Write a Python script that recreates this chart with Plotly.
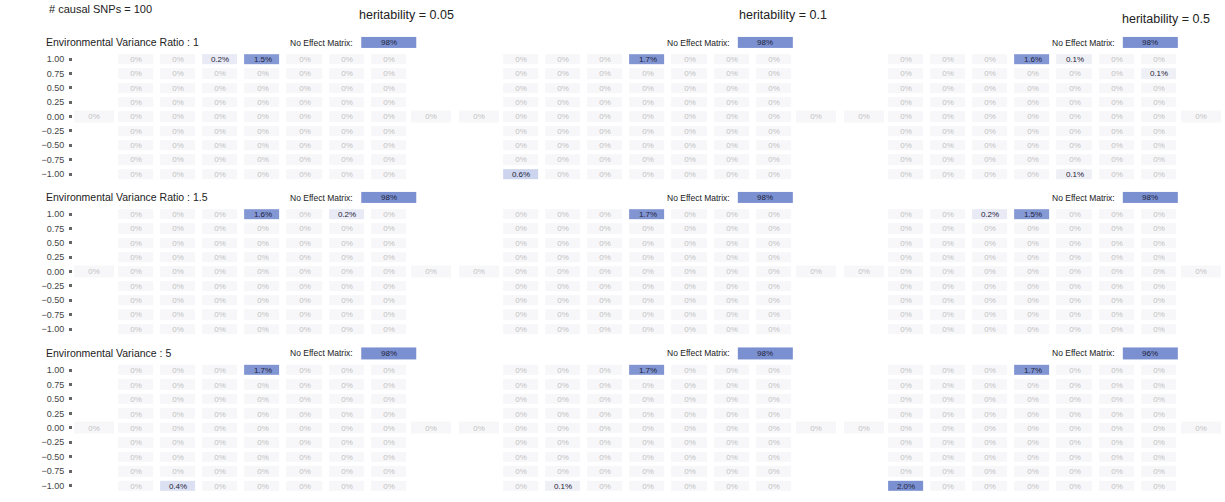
import plotly.graph_objects as go

W, H = 1225, 502
FONT = "Liberation Sans, Arial, sans-serif"

# ---- data -------------------------------------------------------------
heritability = ["0.05", "0.1", "0.5"]
env_labels = [
    "Environmental Variance Ratio : 1",
    "Environmental Variance Ratio : 1.5",
    "Environmental Variance : 5",
]
effect_levels = [1.00, 0.75, 0.50, 0.25, 0.00, -0.25, -0.50, -0.75, -1.00]

Z7 = [0, 0, 0, 0, 0, 0, 0]

# percentage of runs per cell, rows 1.00 -> -1.00, 7 columns
grid_ev1_h005 = [[0, 0, 0.2, 1.5, 0, 0, 0], Z7, Z7, Z7, Z7, Z7, Z7, Z7, Z7]
grid_ev1_h01 = [[0, 0, 0, 1.7, 0, 0, 0], Z7, Z7, Z7, Z7, Z7, Z7, Z7,
                [0.6, 0, 0, 0, 0, 0, 0]]
grid_ev1_h05 = [[0, 0, 0, 1.6, 0.1, 0, 0], [0, 0, 0, 0, 0, 0, 0.1],
                Z7, Z7, Z7, Z7, Z7, Z7, [0, 0, 0, 0, 0.1, 0, 0]]

grid_ev15_h005 = [[0, 0, 0, 1.6, 0, 0.2, 0], Z7, Z7, Z7, Z7, Z7, Z7, Z7, Z7]
grid_ev15_h01 = [[0, 0, 0, 1.7, 0, 0, 0], Z7, Z7, Z7, Z7, Z7, Z7, Z7, Z7]
grid_ev15_h05 = [[0, 0, 0.2, 1.5, 0, 0, 0], Z7, Z7, Z7, Z7, Z7, Z7, Z7, Z7]

grid_ev5_h005 = [[0, 0, 0, 1.7, 0, 0, 0], Z7, Z7, Z7, Z7, Z7, Z7, Z7,
                 [0, 0.4, 0, 0, 0, 0, 0]]
grid_ev5_h01 = [[0, 0, 0, 1.7, 0, 0, 0], Z7, Z7, Z7, Z7, Z7, Z7, Z7,
                [0, 0.1, 0, 0, 0, 0, 0]]
grid_ev5_h05 = [[0, 0, 0, 1.7, 0, 0, 0], Z7, Z7, Z7, Z7, Z7, Z7, Z7,
                [2.0, 0, 0, 0, 0, 0, 0]]

grids = [
    [grid_ev1_h005, grid_ev1_h01, grid_ev1_h05],
    [grid_ev15_h005, grid_ev15_h01, grid_ev15_h05],
    [grid_ev5_h005, grid_ev5_h01, grid_ev5_h05],
]

# outer cells of the 0.00 row (left, right)
side_cells = [
    [[0, 0], [0, 0], [0, 0]],
    [[0, 0], [0, 0], [0, 0]],
    [[0, 0], [0, 0], [0, 0]],
]

no_effect = [
    [98, 98, 98],
    [98, 98, 98],
    [98, 98, 96],
]

# ---- styling ----------------------------------------------------------
colorscale = [
    [0.00, "#f7f7f9"],
    [0.05, "#eff0f6"],
    [0.10, "#e8eaf5"],
    [0.20, "#dbe0f2"],
    [0.30, "#ccd4ee"],
    [0.75, "#8599d5"],
    [1.00, "#7a90d1"],
]
ZMAX = 2.0
ZERO_TXT = "#c2c2c2"
VAL_TXT = "#1f2438"

# panel geometry in pixels
col_px = [(73, 452), (458, 837), (843, 1222)]
row_px = [(59.3, 174.0), (214.3, 329.0), (370.0, 485.7)]  # centers of 1.00 / -1.00
Y_LO, Y_HI = -1.125, 1.40
ne_center = [7.0, 6.8, 6.8]
NE_HALF = 0.655
NE_Y = (1.19, 1.39)


def xdom(c):
    a, b = col_px[c]
    return [a / W, b / W]


def ydom(r):
    top_c, bot_c = row_px[r]
    pitch = (bot_c - top_c) / 8
    top = top_c - (Y_HI - 1.0) / 0.25 * pitch
    bot = bot_c + 0.5 * pitch
    return [1 - bot / H, 1 - top / H]


def fmt(v):
    return "0%" if v == 0 else f"{v:.1f}%"


fig = go.Figure()
levels_up = effect_levels[::-1]
hm_common = dict(colorscale=colorscale, zmin=0, zmax=ZMAX, showscale=False,
                 texttemplate="%{text}", hoverinfo="skip")

for r in range(3):
    for c in range(3):
        xa = "x" if c == 0 else f"x{c + 1}"
        ya = "y" if r == 0 else f"y{r + 1}"
        g = grids[r][c][::-1]
        zero_z = [[0 if v == 0 else None for v in row] for row in g]
        zero_t = [["0%" if v == 0 else "" for v in row] for row in g]
        val_z = [[v if v != 0 else None for v in row] for row in g]
        val_t = [[fmt(v) if v != 0 else "" for v in row] for row in g]
        cols = list(range(1, 8))
        fig.add_trace(go.Heatmap(z=zero_z, x=cols, y=levels_up, text=zero_t,
                                 xgap=7, ygap=4, xaxis=xa, yaxis=ya,
                                 textfont=dict(size=8, color=ZERO_TXT, family=FONT),
                                 **hm_common))
        fig.add_trace(go.Heatmap(z=val_z, x=cols, y=levels_up, text=val_t,
                                 xgap=7, ygap=4, xaxis=xa, yaxis=ya,
                                 textfont=dict(size=8, color=VAL_TXT, family=FONT),
                                 **hm_common))
        # outer cells of the 0.00 row
        left, right = side_cells[r][c]
        side_z = [[left] + [None] * 7 + [right]]
        side_t = [[fmt(left)] + [""] * 7 + [fmt(right)]]
        fig.add_trace(go.Heatmap(z=side_z, x=list(range(9)), y=[-0.125, 0.125],
                                 text=side_t, xgap=2, ygap=2, xaxis=xa, yaxis=ya,
                                 textfont=dict(size=8, color=ZERO_TXT, family=FONT),
                                 **hm_common))
        # no-effect matrix cell
        ne = no_effect[r][c]
        cx = ne_center[c]
        fig.add_trace(go.Heatmap(z=[[ne]], x=[cx - NE_HALF, cx + NE_HALF],
                                 y=list(NE_Y), text=[[f"{ne}%"]],
                                 xaxis=xa, yaxis=ya,
                                 textfont=dict(size=8, color=VAL_TXT, family=FONT),
                                 **hm_common))
        fig.add_annotation(text="No Effect Matrix:", xref=xa, yref=ya,
                           x=cx - NE_HALF, y=sum(NE_Y) / 2, xanchor="right",
                           yanchor="middle", xshift=-6, showarrow=False,
                           font=dict(size=8.5, color="#222", family=FONT))

layout = dict(
    width=W, height=H, margin=dict(l=0, r=0, t=0, b=0),
    paper_bgcolor="white", plot_bgcolor="white",
    font=dict(family=FONT, color="#333"),
    showlegend=False,
)
for c in range(3):
    key = "xaxis" if c == 0 else f"xaxis{c + 1}"
    layout[key] = dict(domain=xdom(c), range=[-0.5, 8.5], visible=False,
                       anchor="y", fixedrange=True)
for r in range(3):
    key = "yaxis" if r == 0 else f"yaxis{r + 1}"
    layout[key] = dict(domain=ydom(r), range=[Y_LO, Y_HI], anchor="x",
                       tickvals=effect_levels, tickformat=".2f",
                       ticks="outside", ticklen=3, tickwidth=3, tickcolor="#666",
                       ticklabelstandoff=3,
                       showgrid=False, zeroline=False, showline=False,
                       tickfont=dict(size=9, color="#444", family=FONT),
                       fixedrange=True)
fig.update_layout(**layout)

# titles
fig.add_annotation(text="# causal SNPs = 100", xref="paper", yref="paper",
                   x=47 / W, y=1 - 9 / H, xanchor="left", yanchor="middle",
                   showarrow=False, font=dict(size=11, color="#222", family=FONT))
herit_pos = [(357, 15), (737, 15), (1120, 19)]
for h, (px, py) in zip(heritability, herit_pos):
    fig.add_annotation(text=f"heritability = {h}", xref="paper", yref="paper",
                       x=px / W, y=1 - py / H, xanchor="left", yanchor="middle",
                       showarrow=False, font=dict(size=12.5, color="#222", family=FONT))
env_y = [42, 197, 353]
for lab, py in zip(env_labels, env_y):
    fig.add_annotation(text=lab, xref="paper", yref="paper",
                       x=44 / W, y=1 - py / H, xanchor="left", yanchor="middle",
                       showarrow=False, font=dict(size=10.5, color="#222", family=FONT))

fig.write_html("out.html")
